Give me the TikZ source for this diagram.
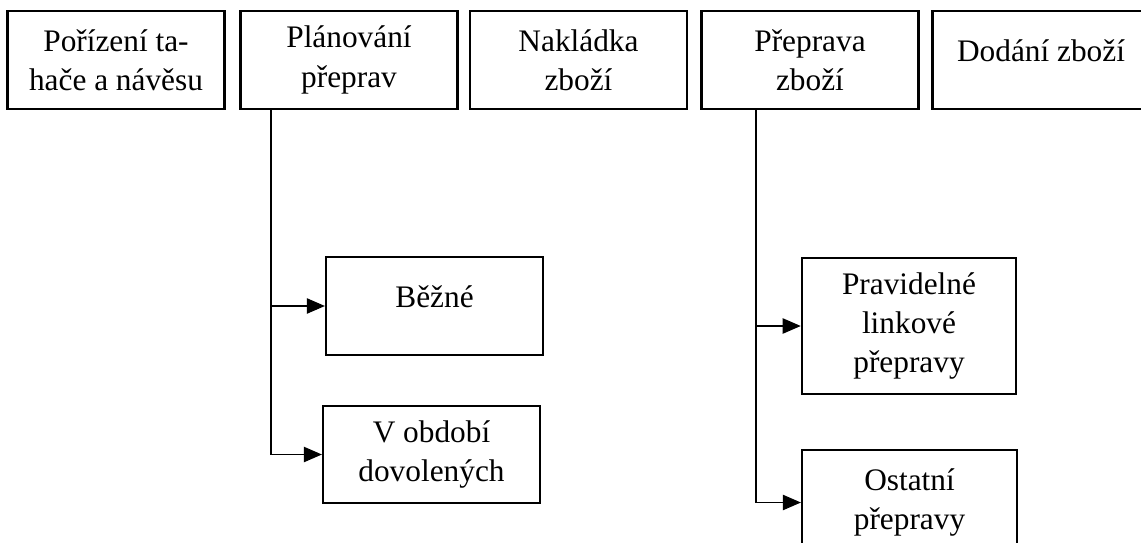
\documentclass[tikz,border=0pt]{standalone}
\usepackage{fontspec}
\setmainfont{Liberation Serif}
\usetikzlibrary{arrows.meta}

\begin{document}
\begin{tikzpicture}[x=0.75pt, y=-0.75pt, >={Triangle[length=13.5pt, width=11.5pt]},
  every node/.style={font=\fontsize{23.5}{29.5}\selectfont},
  box/.style={draw, line width=1.9pt, align=center, inner sep=0pt, minimum width=162.5pt, minimum height=73.5pt},
  oneline/.style={text depth=14pt},
  link/.style={line width=0.8pt}]
  \useasboundingbox (0,0) rectangle (1141,542);
  % process steps
  \node[box] (porizeni) at (116,60) {Pořízení ta-\\hače a návěsu};
  \node[box] (planovani) at (349,60) {Plánování\\přeprav};
  \node[box] (nakladka) at (578.5,60) {Nakládka\\zboží};
  \node[box] (preprava) at (810,60) {Přeprava\\zboží};
  \node[box, oneline] (dodani) at (1041,60) {Dodání zboží};
  % sub-steps
  \node[box, oneline] (bezne) at (434.5,306) {Běžné};
  \node[box, minimum height=72.75pt] (obdobi) at (431.5,454.5) {V období\\dovolených};
  \node[box, minimum width=160.5pt, minimum height=102pt] (pravidelne) at (909,326) {Pravidelné\\linkové\\přepravy};
  \node[box, minimum width=161pt, minimum height=79pt] (ostatni) at (909.5,502.5) {Ostatní\\přepravy};
  % connectors
  \coordinate (planline) at (271,109);
  \coordinate (prepline) at (756,109);
  \draw[link] (planline) -- (planline |- obdobi.west);
  \draw[link, ->] (planline |- bezne.west) -- (bezne.west);
  \draw[link, ->] (planline |- obdobi.west) -- (obdobi.west);
  \draw[link] (prepline) -- (prepline |- ostatni.west);
  \draw[link, ->] (prepline |- pravidelne.west) -- (pravidelne.west);
  \draw[link, ->] (prepline |- ostatni.west) -- (ostatni.west);
\end{tikzpicture}
\end{document}
